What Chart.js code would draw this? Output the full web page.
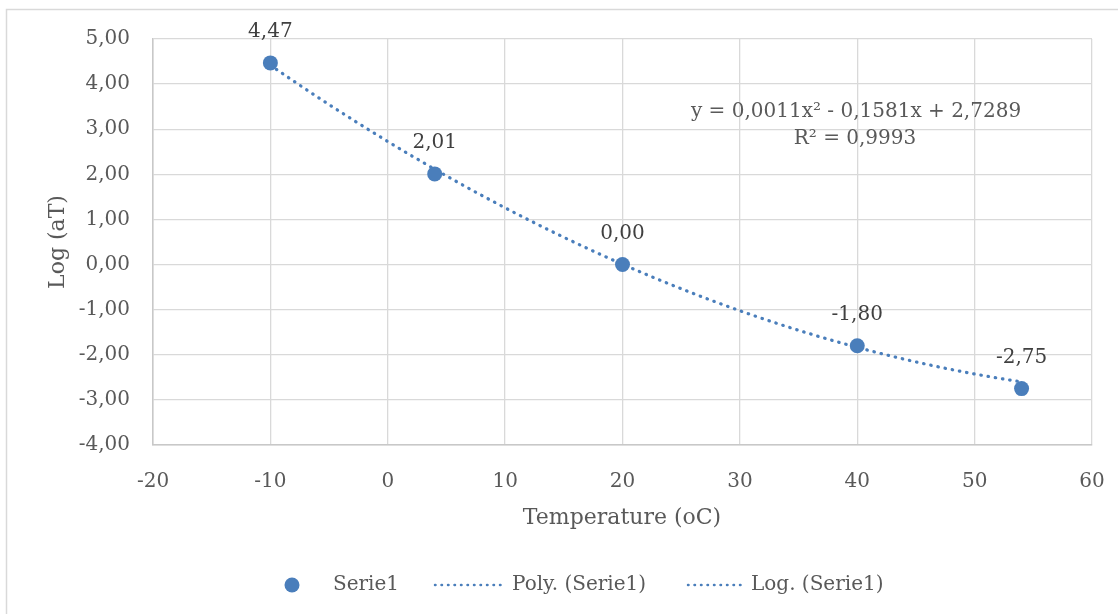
<!DOCTYPE html>
<html>
<head>
<meta charset="utf-8">
<style>
  html, body { margin: 0; padding: 0; background: #ffffff; }
  #wrap { width: 1118px; height: 614px; position: relative; }
</style>
<script src="https://cdn.jsdelivr.net/npm/chart.js@4.4.1/dist/chart.umd.min.js"></script>
</head>
<body>
<div id="wrap"><canvas id="c" width="1118" height="614"></canvas></div>
<script>
// ---- data ----
const temperatures = [-10, 4, 20, 40, 54];
const logAT = [4.47, 2.01, 0.00, -1.80, -2.75];
const seriesName = "Serie1";
const polyName = "Poly. (Serie1)";
const logName = "Log. (Serie1)";
// polynomial trendline as displayed on the chart: y = a x^2 + b x + c
const polyCoefficients = [0.0011, -0.1581, 2.7289];
const equationText = "y = 0,0011x\u00B2 - 0,1581x + 2,7289";
const r2Text = "R\u00B2 = 0,9993";
const xTitle = "Temperature (oC)";
const yTitle = "Log (aT)";
const xTicks = [-20, -10, 0, 10, 20, 30, 40, 50, 60];
const yTicks = [-4, -3, -2, -1, 0, 1, 2, 3, 4, 5];

// ---- build ----
const FONT = "'DejaVu Serif', 'Liberation Serif', serif";
const BLUE = "#4A7EBB";
const points = temperatures.map((x, i) => ({ x: x, y: logAT[i] }));
const trend = [];
const xStart = temperatures[0], xEnd = temperatures[temperatures.length - 1];
for (let x = xStart; x <= xEnd + 1e-9; x += 0.5) {
  trend.push({ x: x, y: polyCoefficients[0] * x * x + polyCoefficients[1] * x + polyCoefficients[2] });
}
const fmt = v => v.toFixed(2).replace('.', ',');

const decor = {
  id: 'decor',
  beforeDraw(chart) {
    const ctx = chart.ctx;
    ctx.save();
    ctx.strokeStyle = '#d9d9d9';
    ctx.lineWidth = 1.5;
    ctx.beginPath();
    ctx.moveTo(1130, 9.5);
    ctx.lineTo(6.5, 9.5);
    ctx.lineTo(6.5, 630);
    ctx.stroke();
    ctx.restore();
  },
  afterDraw(chart) {
    const ctx = chart.ctx;
    const xs = chart.scales.x, ys = chart.scales.y;
    ctx.save();
    // data labels
    ctx.font = "20px " + FONT;
    ctx.fillStyle = '#404040';
    ctx.textAlign = 'center';
    ctx.textBaseline = 'middle';
    points.forEach(p => {
      ctx.fillText(fmt(p.y), xs.getPixelForValue(p.x), ys.getPixelForValue(p.y) - 31);
    });
    // equation
    ctx.fillStyle = '#595959';
    ctx.fillText(equationText, 856, 112);
    ctx.fillText(r2Text, 855, 139);
    // axis titles
    ctx.font = "22px " + FONT;
    ctx.fillText(xTitle, 622, 518);
    ctx.translate(58, 242);
    ctx.rotate(-Math.PI / 2);
    ctx.fillText(yTitle, 0, 0);
    ctx.restore();
    // legend
    ctx.save();
    const ly = 585;
    ctx.fillStyle = BLUE;
    ctx.beginPath();
    ctx.arc(292, ly, 7.5, 0, Math.PI * 2);
    ctx.fill();
    ctx.strokeStyle = BLUE;
    ctx.lineWidth = 2.5;
    ctx.lineCap = 'round';
    ctx.setLineDash([0.5, 6]);
    ctx.beginPath(); ctx.moveTo(435, ly); ctx.lineTo(504, ly); ctx.stroke();
    ctx.beginPath(); ctx.moveTo(688, ly); ctx.lineTo(744, ly); ctx.stroke();
    ctx.setLineDash([]);
    ctx.font = "20px " + FONT;
    ctx.fillStyle = '#595959';
    ctx.textAlign = 'left';
    ctx.textBaseline = 'middle';
    ctx.fillText(seriesName, 333, ly);
    ctx.fillText(polyName, 512, ly);
    ctx.fillText(logName, 751, ly);
    ctx.restore();
  }
};

new Chart(document.getElementById('c'), {
  type: 'scatter',
  data: {
    datasets: [
      {
        label: polyName,
        data: trend,
        showLine: true,
        borderColor: BLUE,
        borderWidth: 3.2,
        borderDash: [0.5, 6.8],
        borderCapStyle: 'round',
        pointRadius: 0,
        pointHoverRadius: 0,
        fill: false,
        order: 2
      },
      {
        label: seriesName,
        data: points,
        backgroundColor: BLUE,
        borderColor: BLUE,
        pointRadius: 7.5,
        pointBorderWidth: 0,
        order: 1
      }
    ]
  },
  options: {
    responsive: false,
    animation: false,
    events: [],
    layout: { padding: { left: 0, top: 39, right: 26, bottom: 0 } },
    plugins: { legend: { display: false }, tooltip: { enabled: false } },
    scales: {
      x: {
        type: 'linear',
        min: xTicks[0], max: xTicks[xTicks.length - 1],
        afterBuildTicks: s => { s.ticks = xTicks.map(v => ({ value: v })); },
        afterFit: s => { s.height = 169; s.paddingLeft = 0; s.paddingRight = 0; },
        ticks: { color: '#595959', font: { family: FONT, size: 20 }, padding: 25, callback: v => String(v) },
        grid: { color: '#d9d9d9', lineWidth: 1.3, drawTicks: false },
        border: { color: '#c8c8c8', width: 1.5 }
      },
      y: {
        type: 'linear',
        min: yTicks[0], max: yTicks[yTicks.length - 1],
        afterBuildTicks: s => { s.ticks = yTicks.map(v => ({ value: v })); },
        afterFit: s => { s.width = 153; s.paddingTop = 0; s.paddingBottom = 0; },
        ticks: { color: '#595959', font: { family: FONT, size: 20 }, padding: 23, callback: v => fmt(v) },
        grid: { color: '#d9d9d9', lineWidth: 1.3, drawTicks: false },
        border: { color: '#c8c8c8', width: 1.5 }
      }
    }
  },
  plugins: [decor]
});
</script>
</body>
</html>
